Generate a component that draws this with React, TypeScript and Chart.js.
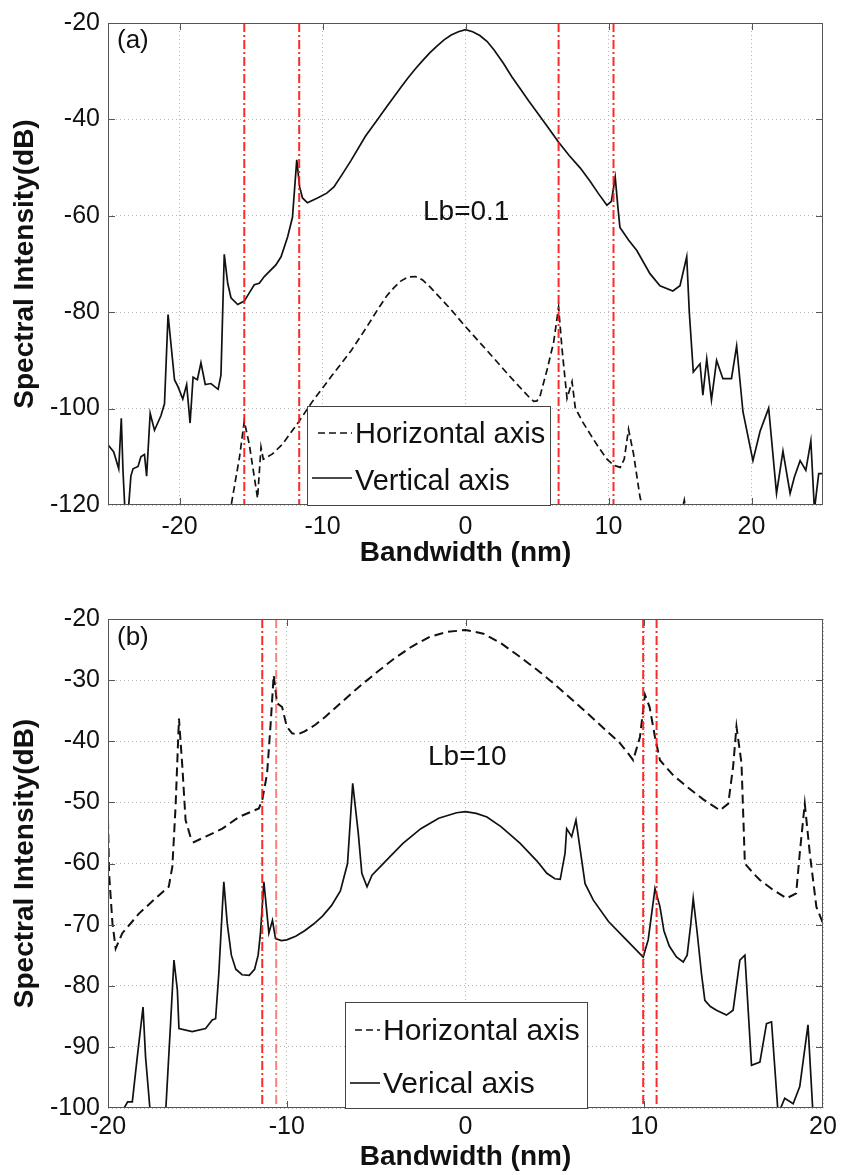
import React, { useEffect, useRef } from "react";
import { Chart, registerables } from "chart.js";

Chart.register(...registerables);

const FONT = "'Liberation Sans', Arial, Helvetica, sans-serif";

// ---------- Panel (a): Lb = 0.1 ----------
const aVertX = [-25.0, -24.6, -24.25, -24.07, -23.95, -23.8, -23.6, -23.4, -23.25, -22.9, -22.7, -22.45, -22.3, -22.05, -21.75, -21.3, -21.05, -20.8, -20.6, -20.35, -20.1, -19.77, -19.5, -19.26, -19.05, -18.75, -18.5, -18.2, -17.8, -17.3, -17.1, -16.87, -16.63, -16.4, -15.93, -15.47, -15.12, -14.77, -14.42, -14.07, -13.26, -12.9, -12.44, -12.1, -11.8, -11.6, -11.4, -11.05, -10.35, -9.7, -9.2, -8.6, -8.0, -7.0, -6.15, -5.5, -5.0, -4.5, -4.0, -3.5, -3.0, -2.5, -2.0, -1.5, -1.0, -0.5, 0.0, 0.5, 1.0, 1.5, 2.0, 2.66, 3.25, 3.84, 4.4, 5.0, 5.75, 6.5, 7.25, 8.03, 8.7, 9.3, 9.89, 10.2, 10.47, 10.65, 10.8, 11.4, 11.98, 12.9, 13.6, 14.5, 15.0, 15.47, 15.65, 15.93, 16.4, 16.6, 16.87, 17.2, 17.56, 18.0, 18.6, 18.96, 19.4, 20.1, 20.6, 21.2, 21.75, 22.2, 22.7, 23.0, 23.4, 23.8, 24.15, 24.4, 24.7, 25.0];
const aVertY = [-107.5, -109, -112.5, -102, -113, -122, -122, -114, -112.5, -112, -110, -109.5, -114, -101, -104.5, -101.5, -99, -80.5, -86.5, -94, -95.5, -98, -95, -103, -93.5, -94, -90.5, -95, -94.8, -96, -93, -68, -74, -77, -78.4, -77.7, -76, -74.3, -74, -72.6, -70.2, -68.5, -64.4, -60.3, -48.4, -54, -56.3, -57.3, -56.3, -55.3, -54, -51.3, -48.5, -43.5, -40, -37.3, -35.3, -33.3, -31.3, -29.5, -27.8, -26.2, -24.8, -23.5, -22.5, -21.8, -21.4, -21.8, -22.6, -23.8, -25.6, -28.4, -31.2, -33.7, -36.1, -38.5, -41.6, -44.7, -47.5, -50.1, -52.8, -55.4, -57.8, -57, -52, -58, -62.4, -65, -67.2, -72, -74.5, -75.6, -74.5, -68.5, -80, -92.4, -90.7, -97.2, -89.7, -98.2, -90, -93.8, -93.8, -87, -100.6, -110.8, -104.7, -99.9, -117.6, -108.8, -117.6, -114.2, -110.8, -112.8, -106.7, -121, -113.5, -113.5];

const aHorzX = [-16.5, -15.8, -15.47, -15.12, -14.77, -14.54, -14.3, -14.14, -13.5, -12.8, -11.63, -10.7, -9.3, -8.0, -7.0, -6.0, -5.5, -5.0, -4.5, -4.0, -3.5, -3.0, -2.5, -2.0, -1.0, 0.0, 1.0, 2.0, 3.0, 4.0, 4.5, 4.77, 5.0, 5.23, 5.7, 6.16, 6.51, 6.75, 7.1, 7.45, 7.68, 8.2, 8.72, 9.3, 9.89, 10.4, 10.82, 11.1, 11.4, 11.75, 12.2, 12.6, 15.0, 15.3, 15.5];
const aHorzY = [-122, -110, -102.6, -107.4, -114.2, -118.6, -108, -110.5, -109.4, -107.4, -102.6, -98.5, -93, -88, -83.5, -78.8, -76.6, -74.9, -73.5, -72.7, -72.6, -73.3, -74.7, -76.3, -79.5, -83, -86.3, -89.6, -93, -96.2, -97.8, -98.5, -98.4, -97.2, -92, -86.3, -79, -87.6, -97.9, -94.4, -99.9, -102.8, -105.3, -108, -110.5, -111.8, -112.2, -110.5, -104.3, -109.4, -118.3, -123, -123, -119, -123];

const aRedX = [-15.47, -11.63, 6.51, 10.35];
const aXRange = [-25, 25];
const aXTickVals = [-20, -10, 0, 10, 20];
const aYRange = [-120, -20];
const aYTickVals = [-120, -100, -80, -60, -40, -20];

// ---------- Panel (b): Lb = 10 ----------
const bHorzX = [-20, -19.94, -19.75, -19.57, -19.2, -18.27, -17.34, -16.6, -16.4, -16.22, -16.03, -15.84, -15.66, -15.4, -15.2, -14.54, -13.6, -12.68, -11.56, -11.37, -11.1, -10.9, -10.73, -10.54, -10.26, -10.0, -9.7, -9.4, -9.0, -8.4, -7.84, -7.0, -6.16, -5.0, -4.0, -3.0, -2.0, -1.0, 0, 1.0, 2.0, 3.0, 4.0, 5.0, 6.0, 7.0, 8.0, 8.64, 9.1, 9.38, 9.76, 10.04, 10.3, 10.6, 10.88, 11.6, 12.37, 13.3, 14.23, 14.7, 14.97, 15.16, 15.44, 15.63, 16.1, 16.47, 17.2, 17.96, 18.5, 18.7, 18.98, 19.26, 19.63, 20];
const bHorzY = [-52.9, -61.6, -69.8, -73.9, -71.4, -68.2, -65.7, -63.8, -60.5, -50.7, -36.3, -44.2, -52.9, -55.5, -56.5, -55.6, -54.3, -52.4, -51, -49.6, -45.3, -37.1, -29.2, -33.8, -34.4, -37.6, -38.7, -38.9, -38.4, -37.3, -36, -33.8, -31.6, -28.8, -26.5, -24.5, -22.9, -22.1, -21.8, -22.4, -24, -26.1, -28.3, -30.7, -33.3, -35.9, -38.6, -40.3, -42, -43.1, -39.3, -32.4, -34.4, -39.3, -43.1, -45.5, -47.4, -49.5, -51.3, -50.2, -44.2, -37.6, -43.6, -60, -61.6, -62.7, -64.3, -65.7, -64.9, -58.3, -50.2, -58.3, -67.1, -69.8];

const bVertX = [-19.5, -19.1, -18.9, -18.64, -18.36, -18.04, -17.9, -17.6, -16.8, -16.5, -16.31, -16.12, -16.03, -15.29, -14.54, -14.17, -13.98, -13.8, -13.6, -13.52, -13.33, -13.1, -12.85, -12.5, -12.1, -11.8, -11.6, -11.47, -11.28, -11.0, -10.8, -10.63, -10.3, -10.0, -9.5, -9.0, -8.5, -8.0, -7.5, -7.0, -6.6, -6.31, -6.0, -5.8, -5.51, -5.23, -4.4, -3.5, -2.5, -1.5, -0.5, 0, 0.6, 1.2, 2.0, 3.06, 4.0, 4.55, 5.0, 5.3, 5.57, 5.66, 5.94, 6.18, 6.69, 7.15, 8.0, 9.0, 9.94, 10.22, 10.6, 10.88, 11.1, 11.4, 11.8, 12.18, 12.4, 12.6, 12.74, 12.95, 13.2, 13.39, 13.7, 14.04, 14.6, 14.97, 15.35, 15.63, 16.0, 16.47, 16.84, 17.12, 17.49, 17.86, 18.33, 18.7, 19.16, 19.44];
const bVertY = [-102, -100, -99, -99, -91.6, -83.5, -91.6, -102, -102, -86.2, -75.8, -80.7, -87, -87.5, -87, -85.6, -85.4, -78, -67.1, -63, -69.8, -75, -77.3, -78.2, -78.3, -77.3, -75, -71.4, -63, -71.4, -69.3, -72.3, -72.6, -72.5, -71.9, -71, -69.9, -68.6, -66.9, -64.5, -60, -46.9, -55, -61.6, -63.8, -61.9, -59.4, -56.7, -54.3, -52.6, -51.7, -51.5, -51.8, -52.4, -54, -56.7, -59.6, -61.6, -62.5, -62.6, -58.3, -54.3, -55.6, -52.9, -63.3, -66, -69.5, -72.5, -75.3, -72.5, -64.1, -67.1, -71, -73.5, -75.3, -76.1, -75, -70, -65.7, -71, -78, -82.4, -83.4, -84, -84.8, -84, -75.8, -75, -93, -92.5, -86.2, -85.9, -101, -98.4, -99.3, -96.5, -86.4, -101];

const bRedX = [-11.37, -10.59, 9.94, 10.69];
const bRedAlpha = [0.9, 0.55, 0.9, 0.9];
const bXRange = [-20, 20];
const bXTickVals = [-20, -10, 0, 10, 20];
const bYRange = [-100, -20];
const bYTickVals = [-100, -90, -80, -70, -60, -50, -40, -30, -20];

const toPts = (xs: number[], ys: number[]) => xs.map((x, i) => ({ x, y: ys[i] }));

type Panel = {
  top: number;
  height: number;
  padTop: number;
  xScaleH: number;
  xTickPad: number;
  xTitlePad: number;
  xr: number[];
  xt: number[];
  yr: number[];
  yt: number[];
  datasets: any[];
  deco: any;
};

const decoPlugin = {
  id: "deco",
  afterDraw(chart: any, _a: any, opts: any) {
    const ctx = chart.ctx;
    const { left, right, top, bottom } = chart.chartArea;
    ctx.save();
    ctx.strokeStyle = "#555";
    ctx.lineWidth = 1;
    ctx.setLineDash([]);
    ctx.strokeRect(left + 0.5, top + 0.5, right - left - 1, bottom - top - 1);
    const xs = chart.scales.x;
    const ys = chart.scales.y;
    ctx.beginPath();
    xs.ticks.forEach((t: any) => {
      const p = Math.round(xs.getPixelForValue(t.value)) + 0.5;
      if (p <= left + 2 || p >= right - 2) return;
      ctx.moveTo(p, bottom);
      ctx.lineTo(p, bottom - 7);
      ctx.moveTo(p, top);
      ctx.lineTo(p, top + 7);
    });
    ys.ticks.forEach((t: any) => {
      const p = Math.round(ys.getPixelForValue(t.value)) + 0.5;
      if (p <= top + 2 || p >= bottom - 2) return;
      ctx.moveTo(left, p);
      ctx.lineTo(left + 7, p);
      ctx.moveTo(right, p);
      ctx.lineTo(right - 7, p);
    });
    ctx.stroke();

    ctx.fillStyle = "#111";
    ctx.textBaseline = "alphabetic";
    ctx.textAlign = "left";
    (opts.texts || []).forEach((t: any) => {
      ctx.font = `${t.size}px ${FONT}`;
      ctx.fillText(t.text, t.x, t.y);
    });

    const lg = opts.legend;
    if (lg) {
      ctx.fillStyle = "#fff";
      ctx.fillRect(lg.x, lg.y, lg.w, lg.h);
      ctx.strokeStyle = "#444";
      ctx.lineWidth = 1;
      ctx.strokeRect(lg.x + 0.5, lg.y + 0.5, lg.w, lg.h);
      lg.rows.forEach((r: any) => {
        ctx.strokeStyle = "#111";
        ctx.lineWidth = 1.6;
        ctx.setLineDash(r.dash);
        ctx.beginPath();
        ctx.moveTo(r.x1, r.ly);
        ctx.lineTo(r.x2, r.ly);
        ctx.stroke();
        ctx.setLineDash([]);
        ctx.fillStyle = "#111";
        ctx.font = `${lg.size}px ${FONT}`;
        ctx.fillText(r.text, r.tx, r.ty);
      });
    }
    ctx.restore();
  },
};

function buildConfig(p: Panel): any {
  return {
    type: "line",
    data: { datasets: p.datasets },
    plugins: [decoPlugin],
    options: {
      animation: false,
      responsive: false,
      devicePixelRatio: 1,
      events: [],
      layout: { padding: { left: 0, right: 18, top: p.padTop, bottom: 0 } },
      elements: { point: { radius: 0 }, line: { tension: 0 } },
      plugins: { legend: { display: false }, tooltip: { enabled: false }, deco: p.deco },
      scales: {
        x: {
          type: "linear",
          min: p.xr[0],
          max: p.xr[1],
          afterBuildTicks: (s: any) => {
            s.ticks = p.xt.map((v) => ({ value: v }));
          },
          ticks: {
            color: "#111",
            padding: p.xTickPad,
            font: { family: FONT, size: 25 },
            maxRotation: 0,
            autoSkip: false,
          },
          grid: { color: "#b5b5b5", lineWidth: 1, drawTicks: false },
          border: { display: false, dash: [1, 3] },
          title: {
            display: true,
            text: "Bandwidth (nm)",
            color: "#111",
            font: { family: FONT, size: 28, weight: "bold" },
            padding: { top: 0, bottom: p.xTitlePad },
          },
          afterFit: (s: any) => {
            s.height = p.xScaleH;
          },
        },
        y: {
          type: "linear",
          min: p.yr[0],
          max: p.yr[1],
          afterBuildTicks: (s: any) => {
            s.ticks = p.yt.map((v) => ({ value: v }));
          },
          ticks: {
            color: "#111",
            padding: 8,
            font: { family: FONT, size: 25 },
            autoSkip: false,
          },
          grid: { color: "#b5b5b5", lineWidth: 1, drawTicks: false },
          border: { display: false, dash: [1, 3] },
          title: {
            display: true,
            text: "Spectral Intensity(dB)",
            color: "#111",
            font: { family: FONT, size: 28, weight: "bold" },
            padding: { top: 8, bottom: 0 },
          },
          afterFit: (s: any) => {
            s.width = 108;
          },
        },
      },
    },
  };
}

function redSets(xs: number[], yr: number[], alphas?: number[]) {
  return xs.map((x, i) => ({
    data: [
      { x, y: yr[1] },
      { x, y: yr[0] - 5 },
    ],
    borderColor: `rgba(255,20,20,${alphas ? alphas[i] : 0.9})`,
    borderWidth: 2,
    borderDash: [9, 3, 2, 3],
    pointRadius: 0,
    fill: false,
  }));
}

const panelA: Panel = {
  top: 0,
  height: 580,
  padTop: 16,
  xScaleH: 75,
  xTickPad: 7,
  xTitlePad: 10,
  xr: aXRange,
  xt: aXTickVals,
  yr: aYRange,
  yt: aYTickVals,
  datasets: [
    ...redSets(aRedX, aYRange),
    { data: toPts(aVertX, aVertY), borderColor: "#111", borderWidth: 1.7, pointRadius: 0, fill: false },
    { data: toPts(aHorzX, aHorzY), borderColor: "#111", borderWidth: 1.7, borderDash: [7, 4], pointRadius: 0, fill: false },
  ],
  deco: {
    texts: [
      { text: "(a)", x: 117, y: 48, size: 26 },
      { text: "Lb=0.1", x: 423, y: 220, size: 28 },
    ],
    legend: {
      x: 307,
      y: 406,
      w: 243,
      h: 99,
      size: 29,
      rows: [
        { text: "Horizontal axis", tx: 355, ty: 443, x1: 318, x2: 352, ly: 433, dash: [7, 4] },
        { text: "Vertical axis", tx: 355, ty: 490, x1: 312, x2: 352, ly: 478, dash: [] },
      ],
    },
  },
};

const panelB: Panel = {
  top: 580,
  height: 595,
  padTop: 39,
  xScaleH: 67,
  xTickPad: 4,
  xTitlePad: 1,
  xr: bXRange,
  xt: bXTickVals,
  yr: bYRange,
  yt: bYTickVals,
  datasets: [
    ...redSets(bRedX, bYRange, bRedAlpha),
    { data: toPts(bHorzX, bHorzY), borderColor: "#111", borderWidth: 2, borderDash: [9, 5], pointRadius: 0, fill: false },
    { data: toPts(bVertX, bVertY), borderColor: "#111", borderWidth: 1.7, pointRadius: 0, fill: false },
  ],
  deco: {
    texts: [
      { text: "(b)", x: 117, y: 65, size: 26 },
      { text: "Lb=10", x: 428, y: 185, size: 28 },
    ],
    legend: {
      x: 345,
      y: 422,
      w: 242,
      h: 106,
      size: 30,
      rows: [
        { text: "Horizontal axis", tx: 383, ty: 460, x1: 355, x2: 380, ly: 450, dash: [7, 4] },
        { text: "Verical axis", tx: 383, ty: 513, x1: 350, x2: 380, ly: 503, dash: [] },
      ],
    },
  },
};

function PanelChart({ panel }: { panel: Panel }) {
  const ref = useRef<HTMLCanvasElement | null>(null);
  useEffect(() => {
    if (!ref.current) return;
    const chart = new Chart(ref.current, buildConfig(panel));
    return () => chart.destroy();
  }, [panel]);
  return (
    <canvas
      ref={ref}
      width={841}
      height={panel.height}
      style={{ position: "absolute", left: 0, top: panel.top, width: 841, height: panel.height }}
    />
  );
}

export default function App() {
  return (
    <div style={{ position: "absolute", left: 0, top: 0, width: 841, height: 1175, background: "#fff" }}>
      <PanelChart panel={panelA} />
      <PanelChart panel={panelB} />
    </div>
  );
}
